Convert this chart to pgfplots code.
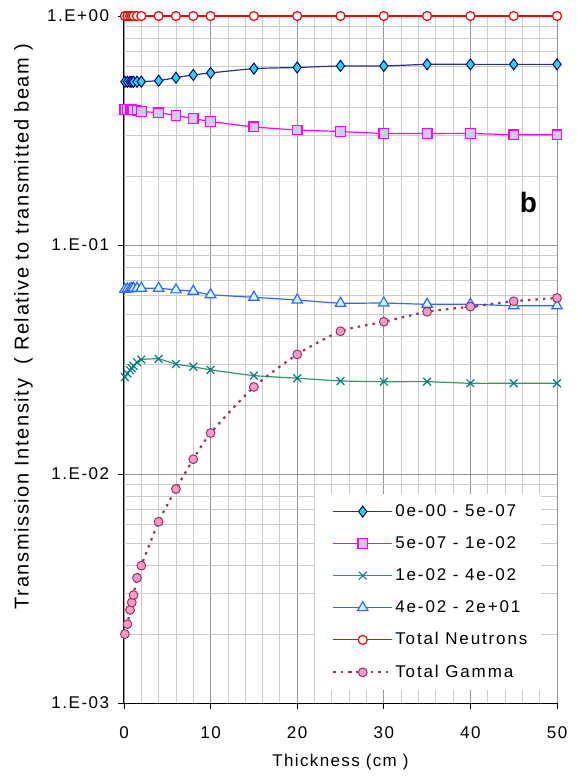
\documentclass[border=0pt]{standalone}
\usepackage{fontspec}
\setmainfont{Liberation Sans}
\usepackage{pgfplots}
\pgfplotsset{compat=1.18}
\usetikzlibrary{calc}
\definecolor{navyln}{HTML}{2E2E8F}
\definecolor{navymk}{HTML}{000080}
\definecolor{cyanfill}{HTML}{1ED8F0}
\definecolor{magln}{HTML}{FF00FF}
\definecolor{lavfill}{HTML}{CCCCFF}
\definecolor{greenln}{HTML}{2E9966}
\definecolor{tealmk}{HTML}{008080}
\definecolor{blueln}{HTML}{3366FF}
\definecolor{lightcy}{HTML}{CCFFFF}
\definecolor{plum}{HTML}{993366}
\definecolor{pinkfill}{HTML}{FF99CC}
\newcommand{\lfont}{\fontsize{17}{20}\selectfont\addfontfeature{LetterSpace=11}}
\newcommand{\xlfont}{\fontsize{17}{20}\selectfont\addfontfeature{LetterSpace=8}}
\newcommand{\ylfont}{\fontsize{20}{24}\selectfont\addfontfeature{LetterSpace=8}}
\newcommand{\tfont}{\fontsize{17}{20}\selectfont\addfontfeature{LetterSpace=9}}
\begin{document}
\fontsize{17}{20}\selectfont
\begin{tikzpicture}
\begin{axis}[name=ax, scale only axis, width=433pt, height=687pt,
  ymode=log, xmin=0, xmax=50, ymin=1e-3, ymax=1, clip=false,
  axis x line*=bottom, axis y line*=left,
  x axis line style={-, black, line width=1pt},
  y axis line style={-, black, line width=1pt},
  xtick={0,10,20,30,40,50}, xticklabels={0,10,20,30,40,50},
  ytick={0.001,0.01,0.1,1}, yticklabels={1.E-03,1.E-02,1.E-01,1.E+00},
  xtick pos=bottom, ytick pos=left,
  tick align=outside, major tick length=6pt, minor tick length=0pt,
  tick style={black, line width=0.8pt},
  minor x tick num=4,
  grid=both,
  major grid style={draw=black!42, line width=0.8pt},
  minor grid style={draw=black!20, line width=0.8pt},
  tick label style={font=\tfont},
  xticklabel style={yshift=-12pt},
  yticklabel style={xshift=-3pt},
  xlabel={Thickness (cm )},
  ylabel={Transmission Intensity\ \ ( Relative to transmitted beam )},
  every axis x label/.style={at={(axis description cs:0.5,-0.086)}, anchor=center, font=\xlfont},
  every axis y label/.style={at={(axis description cs:-0.232,0.548)}, rotate=90, anchor=center, font=\ylfont},
  legend cell align=left,
  legend style={at={(axis description cs:0.441,0.304)}, anchor=north west, fill=white, draw=none,
    font=\lfont, row sep=13.6pt, column sep=0pt, inner xsep=12pt, inner ysep=8pt},
  legend image code/.code={\path (-5pt,0pt) (59pt,0pt);\draw[mark repeat=2,mark phase=2] plot coordinates {(0pt,0pt) (29.5pt,0pt) (59pt,0pt)};},
]
\addplot[navyln, line width=1.2pt, smooth, tension=0.4, mark=diamond*, mark size=5.5pt,
  mark options={fill=cyanfill, draw=navymk, line width=1pt}] coordinates {
 (0.1,0.516) (0.4,0.516) (0.7,0.516) (0.9,0.516) (1.1,0.516) (1.5,0.516) (2,0.517)
 (4,0.522) (6,0.538) (8,0.553) (10,0.564) (15,0.589) (20,0.596) (25,0.605)
 (30,0.605) (35,0.615) (40,0.615) (45,0.615) (50,0.615)};
\addlegendentry{0e-00 - 5e-07}
\addplot[magln, line width=1.2pt, smooth, tension=0.4, mark=square*, mark size=4.8pt,
  mark options={fill=lavfill, draw=magln, line width=1.2pt}] coordinates {
 (0.1,0.391) (0.4,0.391) (0.7,0.390) (0.9,0.390) (1.1,0.389) (1.5,0.388) (2,0.383)
 (4,0.378) (6,0.368) (8,0.357) (10,0.346) (15,0.328) (20,0.318) (25,0.313)
 (30,0.307) (35,0.307) (40,0.307) (45,0.303) (50,0.303)};
\addlegendentry{5e-07 - 1e-02}
\addplot[greenln, line width=1.2pt, smooth, tension=0.4, mark=x, mark size=5.5pt,
  mark options={draw=tealmk, line width=1.2pt}] coordinates {
 (0.1,0.0265) (0.4,0.0275) (0.7,0.0284) (0.9,0.0290) (1.1,0.0297) (1.5,0.0308) (2,0.0316)
 (4,0.0318) (6,0.0302) (8,0.0294) (10,0.0285) (15,0.0269) (20,0.0262) (25,0.0255)
 (30,0.0253) (35,0.0253) (40,0.0249) (45,0.0249) (50,0.0249)};
\addlegendentry{1e-02 - 4e-02}
\addplot[blueln, line width=1.2pt, smooth, tension=0.4, mark=triangle*, mark size=6pt,
  mark options={fill=lightcy, draw=blueln, line width=1.2pt}] coordinates {
 (0.1,0.0640) (0.4,0.0643) (0.7,0.0645) (0.9,0.0646) (1.1,0.0647) (1.5,0.0647) (2,0.0648)
 (4,0.0647) (6,0.0637) (8,0.0628) (10,0.0607) (15,0.0591) (20,0.0575) (25,0.0557)
 (30,0.0558) (35,0.0551) (40,0.0551) (45,0.0543) (50,0.0543)};
\addlegendentry{4e-02 - 2e+01}
\addplot[red, line width=1.2pt, mark=*, mark size=4.5pt,
  mark options={fill=white, draw=red, line width=1.2pt}] coordinates {
 (0.1,1) (0.4,1) (0.7,1) (0.9,1) (1.1,1) (1.5,1) (2,1)
 (4,1) (6,1) (8,1) (10,1) (15,1) (20,1) (25,1)
 (30,1) (35,1) (40,1) (45,1) (50,1)};
\addlegendentry{Total Neutrons}
\addplot[plum, line width=2.2pt, dash pattern=on 2.5pt off 5pt, smooth, tension=0.4, mark=*, mark size=4.4pt,
  mark options={solid, fill=pinkfill, draw=plum, line width=1pt}] coordinates {
 (0.1,0.00200) (0.4,0.00221) (0.7,0.00255) (0.9,0.00275) (1.1,0.00296) (1.5,0.00352) (2,0.00398)
 (4,0.00619) (6,0.0086) (8,0.0116) (10,0.0151) (15,0.0240) (20,0.0333) (25,0.0420)
 (30,0.0462) (35,0.0511) (40,0.0538) (45,0.0568) (50,0.0587)};
\addlegendentry{Total Gamma}
\node[font=\bfseries\fontsize{28}{30}\selectfont] at (axis cs:46.7,0.154) {b};
\end{axis}
\path (ax.south west) ++(-124pt,-73pt) rectangle ($(ax.north east)+(20pt,16pt)$);
\end{tikzpicture}
\end{document}
